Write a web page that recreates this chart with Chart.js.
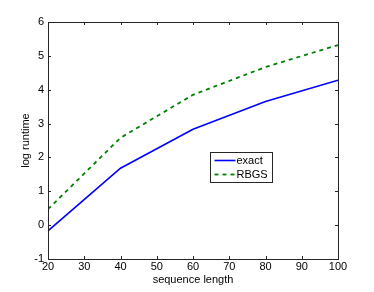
<!DOCTYPE html>
<html>
<head>
<meta charset="utf-8">
<script src="https://cdn.jsdelivr.net/npm/chart.js@4/dist/chart.umd.min.js"></script>
<style>
  html, body { margin: 0; padding: 0; background: #fff; }
  #wrap { width: 374px; height: 292px; }
</style>
</head>
<body>
<div id="wrap"><canvas id="chart" width="374" height="292"></canvas></div>
<script>
// data
const seqLength = [20, 40, 60, 80, 100];
const exactRuntime = [-0.17, 1.68, 2.83, 3.65, 4.28];
const rbgsRuntime = [0.47, 2.58, 3.85, 4.67, 5.32];
const xTicks = [20, 30, 40, 50, 60, 70, 80, 90, 100];
const yTicks = [-1, 0, 1, 2, 3, 4, 5, 6];

const FONT = "'Liberation Sans', Arial, sans-serif";
const axisColor = '#262626';

function toPoints(xs, ys) {
  return xs.map((x, i) => ({ x: x, y: ys[i] }));
}

// box around plot with inward ticks on all sides, like matlab
const boxPlugin = {
  id: 'box',
  afterDatasetsDraw(chart) {
    const ctx = chart.ctx;
    const a = chart.chartArea;
    const xs = chart.scales.x, ys = chart.scales.y;
    ctx.save();
    ctx.strokeStyle = axisColor;
    ctx.lineWidth = 1;
    ctx.beginPath();
    xTicks.forEach(v => {
      const px = Math.round(xs.getPixelForValue(v)) + 0.5;
      ctx.moveTo(px, a.bottom); ctx.lineTo(px, a.bottom - 3);
      ctx.moveTo(px, a.top); ctx.lineTo(px, a.top + 3);
    });
    yTicks.forEach(v => {
      const py = Math.round(ys.getPixelForValue(v)) + 0.5;
      ctx.moveTo(a.left, py); ctx.lineTo(a.left + 3, py);
      ctx.moveTo(a.right, py); ctx.lineTo(a.right - 3, py);
    });
    ctx.stroke();
    ctx.strokeRect(Math.round(a.left) + 0.5, Math.round(a.top) + 0.5,
                   Math.round(a.right - a.left), Math.round(a.bottom - a.top));
    ctx.restore();
  }
};

// legend box inside the plot
const legendPlugin = {
  id: 'boxLegend',
  afterDraw(chart) {
    const ctx = chart.ctx;
    const bx = 210.5, by = 152.5, bw = 62, bh = 30;
    ctx.save();
    ctx.fillStyle = '#fff';
    ctx.fillRect(bx, by, bw, bh);
    ctx.strokeStyle = axisColor;
    ctx.lineWidth = 1;
    ctx.strokeRect(bx, by, bw, bh);
    ctx.font = '11px ' + FONT;
    ctx.textBaseline = 'middle';
    ctx.textAlign = 'left';
    chart.data.datasets.forEach((ds, i) => {
      const y = by + 8 + i * 14;
      ctx.strokeStyle = ds.borderColor;
      ctx.lineWidth = ds.borderWidth;
      ctx.setLineDash(ds.borderDash || []);
      ctx.beginPath();
      ctx.moveTo(bx + 4, y);
      ctx.lineTo(bx + 25, y);
      ctx.stroke();
      ctx.setLineDash([]);
      ctx.fillStyle = '#000';
      ctx.fillText(ds.label, bx + 26, y);
    });
    ctx.restore();
  }
};

new Chart(document.getElementById('chart'), {
  type: 'line',
  data: {
    datasets: [
      {
        label: 'exact',
        data: toPoints(seqLength, exactRuntime),
        borderColor: '#0000ff',
        borderWidth: 1.6,
        pointRadius: 0,
        tension: 0
      },
      {
        label: 'RBGS',
        data: toPoints(seqLength, rbgsRuntime),
        borderColor: '#008000',
        borderWidth: 1.8,
        borderDash: [4, 4],
        pointRadius: 0,
        tension: 0
      }
    ]
  },
  options: {
    responsive: false,
    animation: false,
    devicePixelRatio: 1,
    layout: { padding: { top: 22, right: 36, left: 14, bottom: 0 } },
    plugins: {
      legend: { display: false },
      tooltip: { enabled: false }
    },
    scales: {
      x: {
        type: 'linear',
        min: 20,
        max: 100,
        afterBuildTicks: s => { s.ticks = xTicks.map(v => ({ value: v })); },
        afterFit: s => { s.height = 33; },
        grid: { display: false, drawTicks: false },
        border: { display: false },
        ticks: { color: '#000', font: { family: FONT, size: 11 }, padding: 1, maxRotation: 0 },
        title: {
          display: true,
          text: 'sequence length',
          color: '#000',
          font: { family: FONT, size: 11 },
          padding: { top: 0, bottom: 5 }
        }
      },
      y: {
        type: 'linear',
        min: -1,
        max: 6,
        afterBuildTicks: s => { s.ticks = yTicks.map(v => ({ value: v })); },
        afterFit: s => { s.width = 34; },
        grid: { display: false, drawTicks: false },
        border: { display: false },
        ticks: { color: '#000', font: { family: FONT, size: 11 }, padding: 4 },
        title: {
          display: true,
          text: 'log runtime',
          color: '#000',
          font: { family: FONT, size: 11 },
          padding: { top: 5, bottom: 0 }
        }
      }
    }
  },
  plugins: [boxPlugin, legendPlugin]
});
</script>
</body>
</html>
